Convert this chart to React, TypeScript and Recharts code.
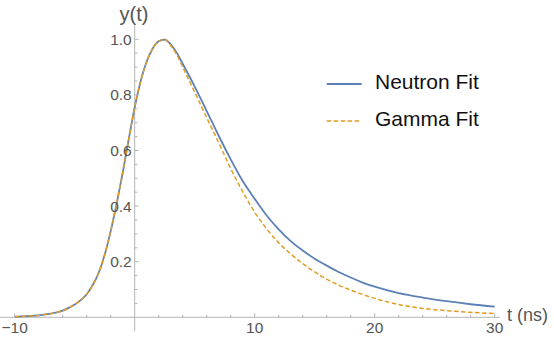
import React from 'react';
import { LineChart, Line, XAxis, YAxis, ReferenceLine, ReferenceDot, Legend } from 'recharts';

// ---- data ----
const tValues = [-10, -9, -8, -7, -6, -5.5, -5, -4.5, -4, -3.5, -3, -2.5, -2, -1.5, -1, -0.5, 0, 0.5, 1, 1.5, 2, 2.5, 3, 3.5, 4, 5, 6, 7, 8, 9, 10, 11, 12, 13, 14, 15, 16, 17, 18, 19, 20, 22, 24, 26, 28, 30];
const neutronFit = [0.002, 0.004, 0.007, 0.013, 0.024, 0.034, 0.046, 0.062, 0.083, 0.116, 0.16, 0.225, 0.31, 0.41, 0.52, 0.64, 0.755, 0.85, 0.92, 0.967, 0.993, 0.999, 0.982, 0.952, 0.912, 0.83, 0.742, 0.653, 0.568, 0.49, 0.426, 0.366, 0.316, 0.274, 0.24, 0.211, 0.186, 0.163, 0.143, 0.125, 0.11, 0.087, 0.071, 0.058, 0.047, 0.038];
const gammaFit = [0.002, 0.004, 0.007, 0.013, 0.024, 0.034, 0.046, 0.062, 0.083, 0.116, 0.16, 0.225, 0.31, 0.41, 0.52, 0.64, 0.755, 0.85, 0.92, 0.967, 0.993, 1.0, 0.978, 0.945, 0.9, 0.81, 0.718, 0.628, 0.535, 0.452, 0.378, 0.318, 0.268, 0.228, 0.193, 0.163, 0.137, 0.116, 0.098, 0.082, 0.068, 0.046, 0.032, 0.024, 0.018, 0.013];
const seriesNames = ['Neutron Fit', 'Gamma Fit'];

const xMajorTicks = [-10, 10, 20, 30];
const xTickLabels = ['\u221210', '10', '20', '30'];
const xMinorTicks = [-8, -6, -4, -2, 2, 4, 6, 8, 12, 14, 16, 18, 22, 24, 26, 28];
const yMajorTicks = [0.2, 0.4, 0.6, 0.8, 1.0];
const yTickLabels = ['0.2', '0.4', '0.6', '0.8', '1.0'];
const yMinorTicks = [0.05, 0.1, 0.15, 0.25, 0.3, 0.35, 0.45, 0.5, 0.55, 0.65, 0.7, 0.75, 0.85, 0.9, 0.95];
const xAxisLabel = 't (ns)';
const yAxisLabel = 'y(t)';

const data = tValues.map((t, i) => ({ t, neutron: neutronFit[i], gamma: gammaFit[i] }));

// ---- styles ----
const W = 554;
const H = 340;
const AXIS = '#b4b4b4';
const TICK_TEXT = '#555555';
const FONT = '"Liberation Sans", Arial, sans-serif';
const BLUE = '#5E81B5';
const ORANGE = '#E19C24';

const xTickShape = (len: number, label?: string) => (p: any) => (
  <g>
    <line x1={p.cx} y1={p.cy} x2={p.cx} y2={p.cy - len} stroke={AXIS} strokeWidth={1} />
    {label ? (
      <text x={p.cx} y={p.cy + 15.7} textAnchor="middle" fontFamily={FONT} fontSize={15.5} fill={TICK_TEXT}>
        {label}
      </text>
    ) : null}
  </g>
);

const yTickShape = (len: number, label?: string) => (p: any) => (
  <g>
    <line x1={p.cx} y1={p.cy} x2={p.cx + len} y2={p.cy} stroke={AXIS} strokeWidth={1} />
    {label ? (
      <text x={p.cx - 3} y={p.cy + 5.5} textAnchor="end" fontFamily={FONT} fontSize={15.5} fill={TICK_TEXT}>
        {label}
      </text>
    ) : null}
  </g>
);

const renderLegend = (props: any) => {
  const payload = [...(props.payload || [])].sort(
    (a: any, b: any) => seriesNames.indexOf(a.value) - seriesNames.indexOf(b.value)
  );
  return (
    <svg width={240} height={80}>
      {payload.map((entry: any, i: number) => {
        const y = 24 + i * 37;
        const dashed = entry.value === seriesNames[1];
        return (
          <g key={i}>
            <line x1={6.7} x2={41.7} y1={y} y2={y} stroke={entry.color} strokeWidth={dashed ? 1.5 : 1.8} strokeDasharray={dashed ? '4.5 2.5' : undefined} />
            <text x={55} y={y + 4.5} fontFamily={FONT} fontSize={21} fill="#111">
              {entry.value}
            </text>
          </g>
        );
      })}
    </svg>
  );
};

export default function App() {
  return (
    <div style={{ position: 'absolute', left: 0, top: 0, width: W, height: H, background: '#fff' }}>
      <LineChart width={W} height={H} data={data} margin={{ top: 25.4, right: 53.9, bottom: 8.8, left: 0 }}>
        <XAxis dataKey="t" type="number" domain={[-11.225, 30.45]} allowDataOverflow hide />
        <YAxis type="number" domain={[-0.05, 1.05]} allowDataOverflow hide />
        <ReferenceLine y={0} stroke={AXIS} strokeWidth={1} />
        <ReferenceLine x={0} stroke={AXIS} strokeWidth={1} />
        {xMinorTicks.map((t) => (
          <ReferenceDot key={'xm' + t} x={t} y={0} r={1} shape={xTickShape(2.7)} />
        ))}
        {xMajorTicks.map((t, i) => (
          <ReferenceDot key={'xM' + t} x={t} y={0} r={1} shape={xTickShape(4, xTickLabels[i])} />
        ))}
        {yMinorTicks.map((v) => (
          <ReferenceDot key={'ym' + v} x={0} y={v} r={1} shape={yTickShape(2.7)} />
        ))}
        {yMajorTicks.map((v, i) => (
          <ReferenceDot key={'yM' + v} x={0} y={v} r={1} shape={yTickShape(4, yTickLabels[i])} />
        ))}
        <ReferenceDot
          x={0}
          y={1.05}
          r={1}
          shape={(p: any) => (
            <text x={p.cx - 0.7} y={p.cy - 4.5} textAnchor="middle" fontFamily={FONT} fontSize={20} fill="#555">
              {yAxisLabel}
            </text>
          )}
        />
        <ReferenceDot
          x={30}
          y={0}
          r={1}
          shape={(p: any) => (
            <text x={p.cx + 12.3} y={p.cy + 4} textAnchor="start" fontFamily={FONT} fontSize={18} fill="#555">
              {xAxisLabel}
            </text>
          )}
        />
        <Line type="monotone" dataKey="neutron" name={seriesNames[0]} stroke={BLUE} strokeWidth={1.8} dot={false} isAnimationActive={false} />
        <Line type="monotone" dataKey="gamma" name={seriesNames[1]} stroke={ORANGE} strokeWidth={1.5} strokeDasharray="4.5 2.5" dot={false} isAnimationActive={false} />
        <Legend
          layout="horizontal"
          verticalAlign="middle"
          align="center"
          content={renderLegend}
          wrapperStyle={{ position: 'absolute', left: 320, top: 60, width: 240, height: 80 }}
        />
      </LineChart>
    </div>
  );
}
